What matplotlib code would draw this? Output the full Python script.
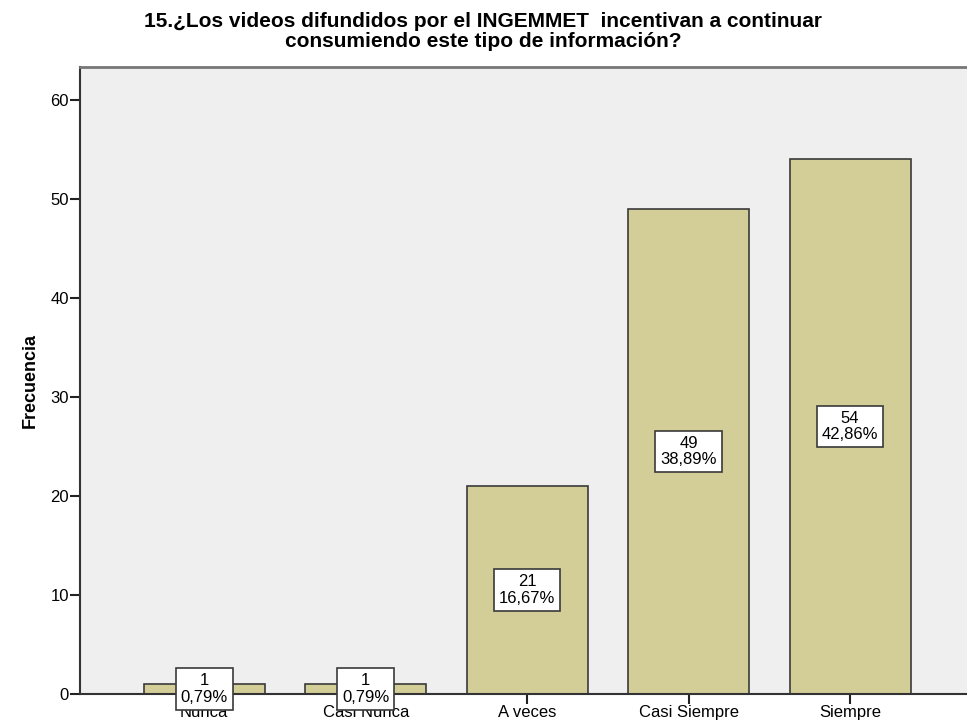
#!/usr/bin/env python3

# frecuencias de la pregunta 15 (videos del INGEMMET)

import matplotlib
matplotlib.use("Agg")
import matplotlib.pyplot as plt

categorias = ["Nunca", "Casi Nunca", "A veces", "Casi Siempre", "Siempre"]
frecuencias = [1, 1, 21, 49, 54]
porcentajes = ["0,79%", "0,79%", "16,67%", "38,89%", "42,86%"]

plt.rcParams["font.family"] = ["Liberation Sans", "DejaVu Sans"]

fig = plt.figure(figsize=(9.67, 7.25), dpi=100)
ax = fig.add_axes([0.0827, 0.0428, 0.925, 0.8648])
ax.set_facecolor("#efefef")

xs = list(range(len(categorias)))
ax.bar(xs, frecuencias, width=0.75, color="#d3ce97", edgecolor="#3a3a3a", linewidth=1.2, zorder=2)

for x, f, p in zip(xs, frecuencias, porcentajes):
	ax.text(x, f / 2, "%d\n%s" % (f, p), ha="center", va="center", fontsize=12,
		linespacing=1.1, zorder=5,
		bbox=dict(boxstyle="square,pad=0.3", facecolor="white", edgecolor="#3a3a3a", linewidth=1.2))

ax.set_xlim(-0.77, 4.77)
ax.set_ylim(0, 63.3)
ax.set_yticks([0, 10, 20, 30, 40, 50, 60])
ax.set_xticks(xs)
ax.set_xticklabels(categorias)
ax.tick_params(axis="both", direction="out", length=7, width=1.5, color="#222222", labelsize=12)
ax.tick_params(axis="x", pad=1)
ax.tick_params(axis="y", pad=1)

for s in ["left", "bottom"]:
	ax.spines[s].set_linewidth(1.5)
	ax.spines[s].set_color("#333333")
ax.spines["top"].set_linewidth(2)
ax.spines["top"].set_color("#777777")
ax.spines["right"].set_visible(False)

ax.set_ylabel("Frecuencia", fontsize=13, fontweight="bold", labelpad=8)

fig.suptitle("15.¿Los videos difundidos por el INGEMMET  incentivan a continuar\nconsumiendo este tipo de información?",
	fontsize=15, fontweight="bold", y=0.983, linespacing=1.05)

fig.savefig("out.png", dpi=100)
